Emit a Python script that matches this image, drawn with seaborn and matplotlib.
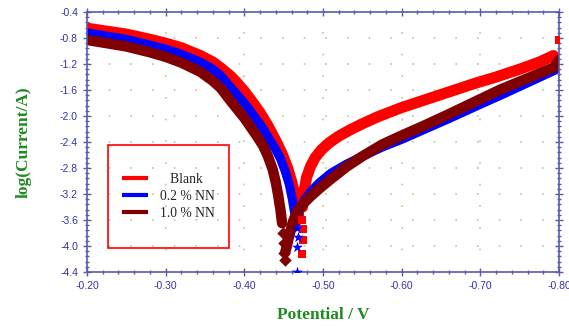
import matplotlib
matplotlib.use("Agg")
import matplotlib.pyplot as plt
import matplotlib.ticker as mticker
from matplotlib.lines import Line2D
from matplotlib.patches import Rectangle
import seaborn as sns

# Tafel polarisation curves, potential (V) vs log(current / A)
# Blank
blank_left_v = [-0.200, -0.250, -0.280, -0.300, -0.320, -0.344, -0.360, -0.370, -0.382, -0.390, -0.400,
                -0.410, -0.420, -0.430, -0.440, -0.448, -0.455, -0.460, -0.464, -0.467, -0.469]
blank_left_i = [-0.65, -0.74, -0.82, -0.88, -0.95, -1.07, -1.17, -1.26, -1.38, -1.48, -1.62,
                -1.78, -1.95, -2.15, -2.38, -2.58, -2.80, -3.00, -3.20, -3.40, -3.55]
blank_right_v = [-0.474, -0.476, -0.479, -0.484, -0.490, -0.498, -0.508, -0.520, -0.535, -0.550,
                 -0.570, -0.600, -0.630, -0.660, -0.690, -0.720, -0.750, -0.775, -0.793]
blank_right_i = [-3.40, -3.15, -2.95, -2.78, -2.64, -2.52, -2.41, -2.31, -2.21, -2.12,
                 -2.01, -1.87, -1.75, -1.63, -1.51, -1.40, -1.28, -1.17, -1.07]
blank_tip_v = [-0.4735, -0.4740, -0.4745, -0.4735, -0.800]
blank_tip_i = [-3.60, -3.74, -3.91, -4.12, -0.83]

# 0.2 % NN
nn02_left_v = [-0.200, -0.250, -0.280, -0.300, -0.320, -0.344, -0.360, -0.370, -0.382, -0.390, -0.400,
               -0.408, -0.416, -0.424, -0.432, -0.440, -0.446, -0.452, -0.457, -0.461, -0.464, -0.466]
nn02_left_i = [-0.72, -0.82, -0.91, -0.97, -1.05, -1.17, -1.28, -1.38, -1.55, -1.66, -1.80,
               -1.93, -2.06, -2.20, -2.36, -2.52, -2.66, -2.85, -3.05, -3.28, -3.50, -3.65]
nn02_right_v = [-0.468, -0.471, -0.476, -0.484, -0.495, -0.510, -0.530, -0.550, -0.575, -0.600,
                -0.630, -0.662, -0.700, -0.726, -0.760, -0.794, -0.800]
nn02_right_i = [-3.55, -3.42, -3.30, -3.17, -3.03, -2.88, -2.74, -2.62, -2.48, -2.36,
                -2.20, -2.03, -1.82, -1.68, -1.49, -1.30, -1.24]
nn02_tip_v = [-0.4665, -0.4680, -0.4670, -0.4675]
nn02_tip_i = [-3.72, -3.86, -4.02, -4.40]

# 1.0 % NN
nn10_left_v = [-0.200, -0.250, -0.280, -0.300, -0.320, -0.344, -0.360, -0.370, -0.382, -0.390, -0.400,
               -0.408, -0.416, -0.424, -0.430, -0.436, -0.440, -0.443, -0.446, -0.448]
nn10_left_i = [-0.83, -0.93, -1.02, -1.09, -1.18, -1.32, -1.46, -1.57, -1.76, -1.88, -2.03,
               -2.17, -2.31, -2.46, -2.62, -2.82, -3.02, -3.22, -3.45, -3.65]
nn10_right_v = [-0.452, -0.455, -0.458, -0.462, -0.467, -0.474, -0.484, -0.495, -0.510, -0.530,
                -0.550, -0.575, -0.600, -0.630, -0.662, -0.700, -0.726, -0.760, -0.794, -0.800]
nn10_right_i = [-4.10, -3.95, -3.80, -3.62, -3.48, -3.36, -3.24, -3.12, -2.97, -2.78,
                -2.62, -2.44, -2.30, -2.14, -1.96, -1.74, -1.59, -1.42, -1.25, -1.14]
nn10_tip_v = [-0.4490, -0.4500, -0.4510, -0.4520]
nn10_tip_i = [-3.80, -3.96, -4.10, -4.22]

labels = ["   Blank", "0.2 % NN", "1.0 % NN"]
colors = ["#ff0000", "#0000ff", "#800000"]

sns.set_style("white")
plt.rcParams['font.family'] = ['Liberation Sans', 'DejaVu Sans']

axis_col = "#5a5aad"
text_col = "#3333aa"
green = "#1f8b1f"

fig = plt.figure(figsize=(5.69, 3.26), dpi=100)
ax = fig.add_axes([87 / 569, 1 - 272 / 326, 472 / 569, 260 / 326])

series = [
    (blank_left_v, blank_left_i, blank_right_v, blank_right_i, blank_tip_v, blank_tip_i, "s", 8, 40),
    (nn02_left_v, nn02_left_i, nn02_right_v, nn02_right_i, nn02_tip_v, nn02_tip_i, "*", 6.5, 70),
    (nn10_left_v, nn10_left_i, nn10_right_v, nn10_right_i, nn10_tip_v, nn10_tip_i, "D", 7.5, 40),
]
for (lv, li, rv, ri, tv, ti, mk, lw, ms), c in zip(series, colors):
    for xv, yv in ((lv, li), (rv, ri)):
        sns.lineplot(x=xv, y=yv, sort=False, estimator=None, color=c,
                     linewidth=lw, ax=ax, solid_joinstyle='round', solid_capstyle='round')
    sns.scatterplot(x=tv, y=ti, marker=mk, s=ms, color=c, linewidth=0, ax=ax, zorder=3)

ax.set_xlim(-0.2, -0.8)
ax.set_ylim(-4.4, -0.4)
ax.xaxis.set_major_locator(mticker.MultipleLocator(0.1))
ax.xaxis.set_minor_locator(mticker.MultipleLocator(0.02))
ax.yaxis.set_major_locator(mticker.MultipleLocator(0.4))
ax.yaxis.set_minor_locator(mticker.MultipleLocator(0.08))
ax.xaxis.set_major_formatter(mticker.FormatStrFormatter('%.2f'))
ax.yaxis.set_major_formatter(mticker.FormatStrFormatter('%.1f'))

ax.grid(True, which='major', color='#b0d090', linestyle=(0, (1, 12)), linewidth=1.2)
for s in ax.spines.values():
    s.set_color(axis_col)
    s.set_linewidth(1.2)
ax.tick_params(which='both', direction='inout', colors=axis_col, labelcolor=text_col,
               top=True, right=True, bottom=True, left=True, labelsize=7.5, width=1)
ax.tick_params(which='major', length=6)
ax.tick_params(which='minor', length=3.5)

ax.set_xlabel("Potential / V", family='Liberation Serif', fontweight='bold',
              fontsize=12.5, color=green)
ax.set_ylabel("log(Current/A)", family='Liberation Serif', fontweight='bold',
              fontsize=12.5, color=green)
ax.xaxis.set_label_coords(0.5, -0.135)
ax.yaxis.set_label_coords(-0.118, 0.5)

# legend box
fig.patches.append(Rectangle((108 / 569, 1 - 248 / 326), 121 / 569, 103 / 326,
                             transform=fig.transFigure, fill=False,
                             edgecolor='#ff0000', linewidth=1.2))
handles = [Line2D([], [], color=c, linewidth=3, solid_capstyle='butt') for c in colors]
fig.legend(handles, labels, loc='center', bbox_to_anchor=(168.5 / 569, 1 - 196.5 / 326),
           frameon=False, prop={'family': 'Liberation Serif', 'size': 9.8},
           handlelength=1.85, handletextpad=0.9, labelspacing=0.3)

fig.savefig("out.png", dpi=100)
